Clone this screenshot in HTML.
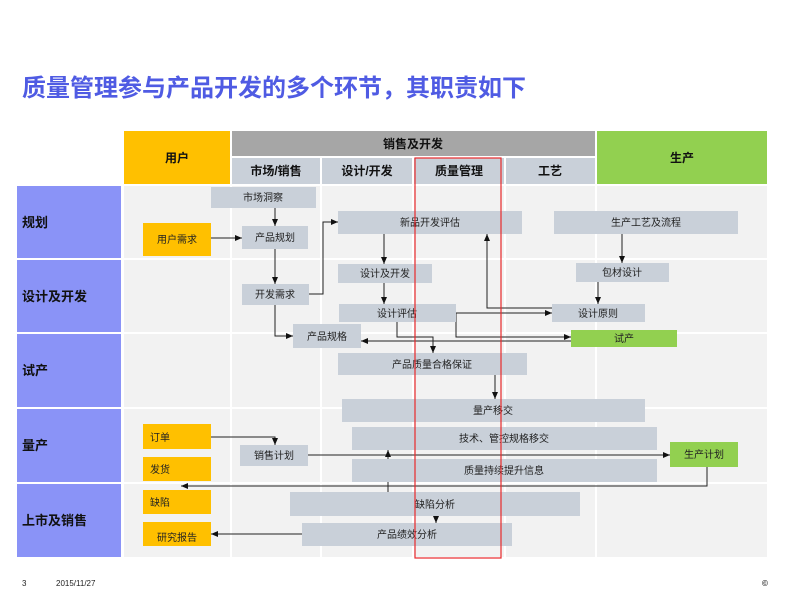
<!DOCTYPE html>
<html><head><meta charset="utf-8"><style>
body{margin:0;background:#fff;}
svg{display:block;font-family:"Liberation Sans","Noto Sans CJK SC",sans-serif;}
</style></head><body>
<svg width="793" height="595" viewBox="0 0 793 595" xmlns="http://www.w3.org/2000/svg">
<defs>
<marker id="a" markerWidth="8" markerHeight="8" refX="7" refY="4" orient="auto" markerUnits="userSpaceOnUse"><path d="M0,1 L7,4 L0,7 Z" fill="#111"/></marker>
</defs>
<text x="22" y="96" font-size="24" font-weight="bold" fill="#4F5BE3">质量管理参与产品开发的多个环节，其职责如下</text>
<!-- header -->
<rect x="124" y="131" width="106" height="53" fill="#FFC000"/>
<text x="177" y="162" font-size="12" font-weight="bold" text-anchor="middle" fill="#111">用户</text>
<rect x="232" y="131" width="363" height="25" fill="#A6A6A6"/>
<text x="413" y="148" font-size="12" font-weight="bold" text-anchor="middle" fill="#111">销售及开发</text>
<rect x="597" y="131" width="170" height="53" fill="#92D050"/>
<text x="682" y="162" font-size="12" font-weight="bold" text-anchor="middle" fill="#111">生产</text>
<g fill="#C9D0D9">
<rect x="232" y="158" width="88" height="26"/><rect x="322" y="158" width="90" height="26"/>
<rect x="414" y="158" width="90" height="26"/><rect x="506" y="158" width="89" height="26"/>
</g>
<g font-size="12" font-weight="bold" text-anchor="middle" fill="#111">
<text x="276" y="175">市场/销售</text><text x="367" y="175">设计/开发</text>
<text x="459" y="175">质量管理</text><text x="550" y="175">工艺</text>
</g>
<!-- rows -->
<g fill="#8A93F7">
<rect x="17" y="186" width="104" height="72"/><rect x="17" y="260" width="104" height="72"/>
<rect x="17" y="334" width="104" height="73"/><rect x="17" y="409" width="104" height="73"/>
<rect x="17" y="484" width="104" height="73"/>
</g>
<g font-size="13" font-weight="bold" fill="#111">
<text x="22" y="227">规划</text><text x="22" y="301">设计及开发</text>
<text x="22" y="375">试产</text><text x="22" y="450">量产</text><text x="22" y="525">上市及销售</text>
</g>
<g fill="#F2F2F2">
<rect x="124" y="186" width="643" height="371"/>
</g>
<g stroke="#fff" stroke-width="2">
<line x1="231" y1="186" x2="231" y2="557"/><line x1="321" y1="186" x2="321" y2="557"/>
<line x1="413" y1="186" x2="413" y2="557"/><line x1="505" y1="186" x2="505" y2="557"/>
<line x1="596" y1="186" x2="596" y2="557"/>
<line x1="124" y1="259" x2="767" y2="259"/><line x1="124" y1="333" x2="767" y2="333"/>
<line x1="124" y1="408" x2="767" y2="408"/><line x1="124" y1="483" x2="767" y2="483"/>
</g>
<!-- connectors -->
<g stroke="#222" stroke-width="1" fill="none">
<line x1="275" y1="208" x2="275" y2="226" marker-end="url(#a)"/>
<line x1="211" y1="238" x2="242" y2="238" marker-end="url(#a)"/>
<line x1="275" y1="249" x2="275" y2="284" marker-end="url(#a)"/>
<polyline points="309,294 323,294 323,222 338,222" marker-end="url(#a)"/>
<line x1="384" y1="234" x2="384" y2="264" marker-end="url(#a)"/>
<line x1="384" y1="283" x2="384" y2="304" marker-end="url(#a)"/>
<line x1="622" y1="234" x2="622" y2="263" marker-end="url(#a)"/>
<line x1="598" y1="282" x2="598" y2="304" marker-end="url(#a)"/>
<polyline points="552,308 487,308 487,234" marker-end="url(#a)"/>
<line x1="456" y1="313" x2="552" y2="313" marker-end="url(#a)"/>
<polyline points="456,313 456,337 571,337" marker-end="url(#a)"/>
<line x1="571" y1="341" x2="361" y2="341" marker-end="url(#a)"/>
<polyline points="275,305 275,336 293,336" marker-end="url(#a)"/>
<polyline points="397,322 397,337 433,337 433,353" marker-end="url(#a)"/>
<line x1="495" y1="375" x2="495" y2="399" marker-end="url(#a)"/>
<polyline points="211,437 275,437 275,445" marker-end="url(#a)"/>
<line x1="308" y1="455" x2="670" y2="455" marker-end="url(#a)"/>
<line x1="388" y1="492" x2="388" y2="450" marker-end="url(#a)"/>
<polyline points="707,467 707,486 181,486" marker-end="url(#a)"/>
<line x1="436" y1="516" x2="436" y2="523" marker-end="url(#a)"/>
<line x1="302" y1="534" x2="211" y2="534" marker-end="url(#a)"/>
</g>
<!-- boxes -->
<g fill="#C9D0D9">
<rect x="211" y="187" width="105" height="21"/>
<rect x="242" y="226" width="66" height="23"/>
<rect x="338" y="211" width="184" height="23"/>
<rect x="554" y="211" width="184" height="23"/>
<rect x="338" y="264" width="94" height="19"/>
<rect x="576" y="263" width="93" height="19"/>
<rect x="242" y="284" width="67" height="21"/>
<rect x="339" y="304" width="117" height="18"/>
<rect x="552" y="304" width="93" height="18"/>
<rect x="293" y="324" width="68" height="24"/>
<rect x="338" y="353" width="189" height="22"/>
<rect x="342" y="399" width="303" height="23"/>
<rect x="352" y="427" width="305" height="23"/>
<rect x="240" y="445" width="68" height="21"/>
<rect x="352" y="459" width="305" height="23"/>
<rect x="290" y="492" width="290" height="24"/>
<rect x="302" y="523" width="210" height="23"/>
</g>
<line x1="388" y1="482" x2="388" y2="492" stroke="#222"/>
<g fill="#FFC000">
<rect x="143" y="223" width="68" height="33"/>
<rect x="143" y="424" width="68" height="25"/>
<rect x="143" y="457" width="68" height="24"/>
<rect x="143" y="490" width="68" height="24"/>
<rect x="143" y="522" width="68" height="24"/>
</g>
<g fill="#92D050">
<rect x="571" y="330" width="106" height="17"/>
<rect x="670" y="442" width="68" height="25"/>
</g>
<g font-size="10" fill="#222" text-anchor="middle">
<text x="263" y="201">市场洞察</text>
<text x="275" y="241">产品规划</text>
<text x="430" y="226">新品开发评估</text>
<text x="646" y="226">生产工艺及流程</text>
<text x="385" y="277">设计及开发</text>
<text x="622" y="276">包材设计</text>
<text x="275" y="298">开发需求</text>
<text x="397" y="317">设计评估</text>
<text x="598" y="317">设计原则</text>
<text x="327" y="340">产品规格</text>
<text x="432" y="368">产品质量合格保证</text>
<text x="493" y="414">量产移交</text>
<text x="504" y="442">技术、管控规格移交</text>
<text x="274" y="459">销售计划</text>
<text x="504" y="474">质量持续提升信息</text>
<text x="435" y="508">缺陷分析</text>
<text x="407" y="538">产品绩效分析</text>
<text x="624" y="342">试产</text>
<text x="704" y="458">生产计划</text>
<text x="177" y="243">用户需求</text>
<text x="177" y="541">研究报告</text>
</g>
<g font-size="10" fill="#222">
<text x="150" y="441">订单</text>
<text x="150" y="473">发货</text>
<text x="150" y="506">缺陷</text>
</g>
<rect x="415" y="158" width="86" height="400" fill="none" stroke="#E8292C" stroke-width="1.2"/>
<g font-size="8" fill="#222">
<text x="22" y="586">3</text><text x="56" y="586">2015/11/27</text><text x="762" y="586" font-weight="bold">©</text>
</g>
</svg>
</body></html>
